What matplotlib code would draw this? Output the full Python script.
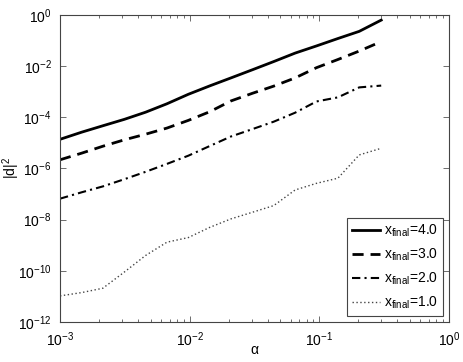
import numpy as np
import matplotlib
matplotlib.use("Agg")
from matplotlib import pyplot as plt
from matplotlib.ticker import FixedLocator, NullLocator, NullFormatter

plt.rcParams['font.family'] = ['Liberation Sans', 'DejaVu Sans']
plt.rcParams['mathtext.fontset'] = 'custom'
plt.rcParams['mathtext.rm'] = 'Liberation Sans'
plt.rcParams['mathtext.it'] = 'Liberation Sans'

# alpha grid
alpha = [0.001, 0.00147, 0.00214, 0.00313, 0.00457, 0.00668, 0.00976, 0.0143,
         0.0208, 0.0305, 0.0445, 0.065, 0.095, 0.139, 0.203, 0.3]

# log10 of |d|^2
log_d4 = [-4.86, -4.58, -4.33, -4.08, -3.80, -3.47, -3.10, -2.77,
          -2.46, -2.14, -1.82, -1.49, -1.21, -0.92, -0.64, -0.20]
log_d3 = [-5.66, -5.40, -5.13, -4.88, -4.66, -4.42, -4.12, -3.78,
          -3.36, -3.06, -2.78, -2.46, -2.06, -1.74, -1.41, -1.04]
log_d2 = [-7.18, -6.93, -6.70, -6.42, -6.13, -5.82, -5.50, -5.12,
          -4.75, -4.46, -4.17, -3.82, -3.38, -3.22, -2.83, -2.76]
log_d1 = [-10.98, -10.85, -10.68, -10.05, -9.40, -8.88, -8.70, -8.30,
          -7.97, -7.71, -7.45, -6.84, -6.58, -6.38, -5.47, -5.21]

labels = [r'x$_{\mathregular{final}}$=4.0', r'x$_{\mathregular{final}}$=3.0',
          r'x$_{\mathregular{final}}$=2.0', r'x$_{\mathregular{final}}$=1.0']

x_ticks = [1e-3, 1e-2, 1e-1, 1e0]
x_ticklabels = [r'10$^{-3}$', r'10$^{-2}$', r'10$^{-1}$', r'10$^{0}$']
y_ticks = [1e-12, 1e-10, 1e-8, 1e-6, 1e-4, 1e-2, 1e0]
y_ticklabels = [r'10$^{-12}$', r'10$^{-10}$', r'10$^{-8}$', r'10$^{-6}$',
                r'10$^{-4}$', r'10$^{-2}$', r'10$^{0}$']

fig = plt.figure(figsize=(4.63, 3.62), dpi=100)
ax = fig.add_axes([0.1296, 0.1105, 0.8402, 0.8481])

ax.plot(alpha, 10 ** np.array(log_d4), color='black', linestyle='-', linewidth=2, label=labels[0])
ax.plot(alpha, 10 ** np.array(log_d3), color='black', linestyle=(0, (4, 2.5)), linewidth=2, label=labels[1])
ax.plot(alpha, 10 ** np.array(log_d2), color='black', linestyle=(0, (4, 2, 1, 2)), linewidth=1.5, label=labels[2])
ax.plot(alpha, 10 ** np.array(log_d1), color='#444444', linestyle=(0, (1, 1.8)), linewidth=1.0, label=labels[3])

ax.set_xscale('log')
ax.set_yscale('log')
ax.set_xlim(1e-3, 1e0)
ax.set_ylim(1e-12, 1e0)

ax.set_xticks(x_ticks)
ax.set_xticklabels(x_ticklabels)
minor_x = [m * 10.0 ** e for e in (-3, -2, -1) for m in range(2, 10)]
ax.xaxis.set_minor_locator(FixedLocator(minor_x))
ax.xaxis.set_minor_formatter(NullFormatter())
ax.set_yticks(y_ticks)
ax.set_yticklabels(y_ticklabels)
ax.yaxis.set_minor_locator(NullLocator())

ax.tick_params(which='both', direction='in', top=True, right=True, labelsize=10, pad=6)
ax.tick_params(which='major', length=4, width=0.6, color='#555555')
ax.tick_params(which='minor', length=2.5, width=0.6, color='#555555')
for s in ax.spines.values():
    s.set_color('#444444')
    s.set_linewidth(0.8)

ax.set_xlabel('α', fontsize=10)
ax.set_ylabel('|d|$^2$', fontsize=10)
ax.xaxis.set_label_coords(0.5, -0.068)
ax.yaxis.set_label_coords(-0.097, 0.5)

leg = ax.legend(loc='lower right', fontsize=10, fancybox=False, framealpha=1,
                edgecolor='#444444', handlelength=2.0, borderpad=0.35,
                labelspacing=0.55, handletextpad=0.3, borderaxespad=0.45)
leg.get_frame().set_linewidth(0.8)

fig.savefig('out.png', dpi=100)
